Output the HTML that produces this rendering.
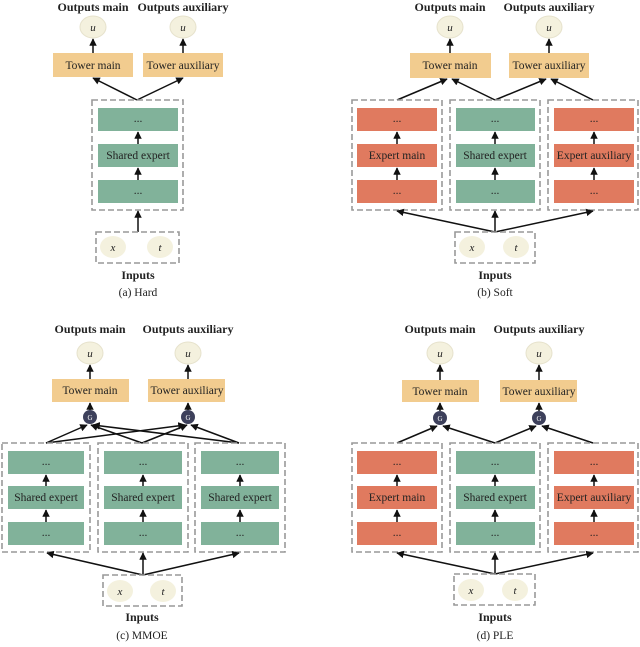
<!DOCTYPE html>
<html><head><meta charset="utf-8"><style>
body{margin:0;background:#fff}
svg text{font-family:"Liberation Serif",serif;fill:#222}
.t{font-size:11.5px}
.b{font-size:12px;font-weight:bold}
.i{font-size:11px;font-style:italic}
.d{fill:none;stroke:#999;stroke-width:1.6;stroke-dasharray:6,3}
.a{stroke:#111;stroke-width:1.5;fill:none;marker-end:url(#ar)}
</style></head><body>
<svg width="640" height="642" viewBox="0 0 640 642" xmlns="http://www.w3.org/2000/svg">
<defs><marker id="ar" viewBox="0 0 10 10" refX="9" refY="5" markerWidth="5" markerHeight="5" orient="auto"><path d="M0,0L10,5L0,10z" fill="#111"/></marker>
<g id="u"><ellipse cx="0" cy="0" rx="13" ry="11" fill="#f4f1de" stroke="#e6e2cc"/><text class="i" x="0" y="4" text-anchor="middle">u</text></g>
<g id="g"><circle cx="0" cy="0" r="7" fill="#3d405b"/><text x="0" y="3" text-anchor="middle" style="font-size:7px;fill:#fff">G</text></g>
</defs>

<!-- (a) -->
<text class="b" x="93" y="11" text-anchor="middle">Outputs main</text>
<text class="b" x="183" y="11" text-anchor="middle">Outputs auxiliary</text>
<use href="#u" x="93" y="27"/><use href="#u" x="183" y="27"/>
<rect x="53" y="53" width="80" height="24" fill="#f2cc8f"/><text class="t" x="93" y="69" text-anchor="middle">Tower main</text>
<rect x="143" y="53" width="80" height="24" fill="#f2cc8f"/><text class="t" x="183" y="69" text-anchor="middle">Tower auxiliary</text>
<line class="a" x1="93" y1="53" x2="93" y2="39"/><line class="a" x1="183" y1="53" x2="183" y2="39"/>
<line class="a" x1="137" y1="100" x2="93" y2="78"/><line class="a" x1="137" y1="100" x2="183" y2="78"/>
<rect class="d" x="92" y="100" width="91" height="110"/>
<rect x="98" y="108" width="80" height="23" fill="#81b29a"/><text class="t" x="138" y="122" text-anchor="middle">...</text>
<rect x="98" y="144" width="80" height="23" fill="#81b29a"/><text class="t" x="138" y="159" text-anchor="middle">Shared expert</text>
<rect x="98" y="180" width="80" height="23" fill="#81b29a"/><text class="t" x="138" y="194" text-anchor="middle">...</text>
<line class="a" x1="138" y1="144" x2="138" y2="132"/><line class="a" x1="138" y1="180" x2="138" y2="168"/>
<line class="a" x1="138" y1="232" x2="138" y2="211"/>
<rect class="d" x="96" y="232" width="83" height="31"/>
<ellipse cx="113" cy="247" rx="13" ry="11" fill="#f4f1de"/><text class="i" x="113" y="251" text-anchor="middle">x</text>
<ellipse cx="160" cy="247" rx="13" ry="11" fill="#f4f1de"/><text class="i" x="160" y="251" text-anchor="middle">t</text>
<text class="b" x="138" y="279" text-anchor="middle">Inputs</text>
<text class="t" x="138" y="296" text-anchor="middle">(a) Hard</text>

<!-- (b) -->
<text class="b" x="450" y="11" text-anchor="middle">Outputs main</text>
<text class="b" x="549" y="11" text-anchor="middle">Outputs auxiliary</text>
<use href="#u" x="450" y="27"/><use href="#u" x="549" y="27"/>
<rect x="410" y="53" width="81" height="25" fill="#f2cc8f"/><text class="t" x="450" y="69" text-anchor="middle">Tower main</text>
<rect x="509" y="53" width="80" height="25" fill="#f2cc8f"/><text class="t" x="549" y="69" text-anchor="middle">Tower auxiliary</text>
<line class="a" x1="450" y1="53" x2="450" y2="39"/><line class="a" x1="549" y1="53" x2="549" y2="39"/>
<line class="a" x1="397" y1="100" x2="447" y2="79"/><line class="a" x1="495" y1="100" x2="452" y2="79"/>
<line class="a" x1="495" y1="100" x2="546" y2="79"/><line class="a" x1="593" y1="100" x2="551" y2="79"/>
<rect class="d" x="352" y="100" width="90" height="110"/>
<rect class="d" x="450" y="100" width="90" height="110"/>
<rect class="d" x="548" y="100" width="90" height="110"/>
<rect x="357" y="108" width="80" height="23" fill="#e07a5f"/><text class="t" x="397" y="122" text-anchor="middle">...</text>
<rect x="357" y="144" width="80" height="23" fill="#e07a5f"/><text class="t" x="397" y="159" text-anchor="middle">Expert main</text>
<rect x="357" y="180" width="80" height="23" fill="#e07a5f"/><text class="t" x="397" y="194" text-anchor="middle">...</text>
<rect x="456" y="108" width="79" height="23" fill="#81b29a"/><text class="t" x="495" y="122" text-anchor="middle">...</text>
<rect x="456" y="144" width="79" height="23" fill="#81b29a"/><text class="t" x="495" y="159" text-anchor="middle">Shared expert</text>
<rect x="456" y="180" width="79" height="23" fill="#81b29a"/><text class="t" x="495" y="194" text-anchor="middle">...</text>
<rect x="554" y="108" width="80" height="23" fill="#e07a5f"/><text class="t" x="594" y="122" text-anchor="middle">...</text>
<rect x="554" y="144" width="80" height="23" fill="#e07a5f"/><text class="t" x="594" y="159" text-anchor="middle">Expert auxiliary</text>
<rect x="554" y="180" width="80" height="23" fill="#e07a5f"/><text class="t" x="594" y="194" text-anchor="middle">...</text>
<line class="a" x1="397" y1="144" x2="397" y2="132"/><line class="a" x1="397" y1="180" x2="397" y2="168"/>
<line class="a" x1="495" y1="144" x2="495" y2="132"/><line class="a" x1="495" y1="180" x2="495" y2="168"/>
<line class="a" x1="594" y1="144" x2="594" y2="132"/><line class="a" x1="594" y1="180" x2="594" y2="168"/>
<line class="a" x1="495" y1="232" x2="397" y2="211"/><line class="a" x1="495" y1="232" x2="495" y2="211"/><line class="a" x1="495" y1="232" x2="593" y2="211"/>
<rect class="d" x="455" y="232" width="80" height="31"/>
<ellipse cx="472" cy="247" rx="13" ry="11" fill="#f4f1de"/><text class="i" x="472" y="251" text-anchor="middle">x</text>
<ellipse cx="516" cy="247" rx="13" ry="11" fill="#f4f1de"/><text class="i" x="516" y="251" text-anchor="middle">t</text>
<text class="b" x="495" y="279" text-anchor="middle">Inputs</text>
<text class="t" x="495" y="296" text-anchor="middle">(b) Soft</text>

<!-- (c) -->
<text class="b" x="90" y="333" text-anchor="middle">Outputs main</text>
<text class="b" x="188" y="333" text-anchor="middle">Outputs auxiliary</text>
<use href="#u" x="90" y="353"/><use href="#u" x="188" y="353"/>
<rect x="52" y="379" width="77" height="23" fill="#f2cc8f"/><text class="t" x="90" y="394" text-anchor="middle">Tower main</text>
<rect x="148" y="379" width="77" height="23" fill="#f2cc8f"/><text class="t" x="187" y="394" text-anchor="middle">Tower auxiliary</text>
<line class="a" x1="90" y1="379" x2="90" y2="365"/><line class="a" x1="188" y1="379" x2="188" y2="365"/>
<line class="a" x1="90" y1="410" x2="90" y2="403"/><line class="a" x1="188" y1="410" x2="188" y2="403"/>
<use href="#g" x="90" y="417"/><use href="#g" x="188" y="417"/>
<line class="a" x1="46" y1="443" x2="87" y2="425"/><line class="a" x1="46" y1="443" x2="185" y2="425"/>
<line class="a" x1="142" y1="443" x2="91" y2="425"/><line class="a" x1="142" y1="443" x2="187" y2="425"/>
<line class="a" x1="239" y1="443" x2="93" y2="425"/><line class="a" x1="239" y1="443" x2="191" y2="425"/>
<rect class="d" x="2" y="443" width="88" height="109"/>
<rect class="d" x="98" y="443" width="90" height="109"/>
<rect class="d" x="195" y="443" width="90" height="109"/>
<rect x="8" y="451" width="76" height="23" fill="#81b29a"/><text class="t" x="46" y="465" text-anchor="middle">...</text>
<rect x="8" y="486" width="76" height="23" fill="#81b29a"/><text class="t" x="46" y="501" text-anchor="middle">Shared expert</text>
<rect x="8" y="522" width="76" height="23" fill="#81b29a"/><text class="t" x="46" y="536" text-anchor="middle">...</text>
<rect x="104" y="451" width="78" height="23" fill="#81b29a"/><text class="t" x="143" y="465" text-anchor="middle">...</text>
<rect x="104" y="486" width="78" height="23" fill="#81b29a"/><text class="t" x="143" y="501" text-anchor="middle">Shared expert</text>
<rect x="104" y="522" width="78" height="23" fill="#81b29a"/><text class="t" x="143" y="536" text-anchor="middle">...</text>
<rect x="201" y="451" width="78" height="23" fill="#81b29a"/><text class="t" x="240" y="465" text-anchor="middle">...</text>
<rect x="201" y="486" width="78" height="23" fill="#81b29a"/><text class="t" x="240" y="501" text-anchor="middle">Shared expert</text>
<rect x="201" y="522" width="78" height="23" fill="#81b29a"/><text class="t" x="240" y="536" text-anchor="middle">...</text>
<line class="a" x1="46" y1="486" x2="46" y2="475"/><line class="a" x1="46" y1="522" x2="46" y2="510"/>
<line class="a" x1="143" y1="486" x2="143" y2="475"/><line class="a" x1="143" y1="522" x2="143" y2="510"/>
<line class="a" x1="240" y1="486" x2="240" y2="475"/><line class="a" x1="240" y1="522" x2="240" y2="510"/>
<line class="a" x1="143" y1="575" x2="47" y2="553"/><line class="a" x1="143" y1="575" x2="143" y2="553"/><line class="a" x1="143" y1="575" x2="239" y2="553"/>
<rect class="d" x="103" y="575" width="79" height="31"/>
<ellipse cx="120" cy="591" rx="13" ry="11" fill="#f4f1de"/><text class="i" x="120" y="595" text-anchor="middle">x</text>
<ellipse cx="163" cy="591" rx="13" ry="11" fill="#f4f1de"/><text class="i" x="163" y="595" text-anchor="middle">t</text>
<text class="b" x="142" y="621" text-anchor="middle">Inputs</text>
<text class="t" x="142" y="639" text-anchor="middle">(c) MMOE</text>

<!-- (d) -->
<text class="b" x="440" y="333" text-anchor="middle">Outputs main</text>
<text class="b" x="539" y="333" text-anchor="middle">Outputs auxiliary</text>
<use href="#u" x="440" y="353"/><use href="#u" x="539" y="353"/>
<rect x="402" y="380" width="77" height="22" fill="#f2cc8f"/><text class="t" x="440" y="395" text-anchor="middle">Tower main</text>
<rect x="500" y="380" width="77" height="22" fill="#f2cc8f"/><text class="t" x="539" y="395" text-anchor="middle">Tower auxiliary</text>
<line class="a" x1="440" y1="380" x2="440" y2="365"/><line class="a" x1="539" y1="380" x2="539" y2="365"/>
<line class="a" x1="440" y1="411" x2="440" y2="403"/><line class="a" x1="539" y1="411" x2="539" y2="403"/>
<use href="#g" x="440" y="418"/><use href="#g" x="539" y="418"/>
<line class="a" x1="397" y1="443" x2="437" y2="426"/><line class="a" x1="495" y1="443" x2="443" y2="426"/>
<line class="a" x1="495" y1="443" x2="536" y2="426"/><line class="a" x1="593" y1="443" x2="542" y2="426"/>
<rect class="d" x="352" y="443" width="90" height="109"/>
<rect class="d" x="450" y="443" width="90" height="109"/>
<rect class="d" x="548" y="443" width="90" height="109"/>
<rect x="357" y="451" width="80" height="23" fill="#e07a5f"/><text class="t" x="397" y="465" text-anchor="middle">...</text>
<rect x="357" y="486" width="80" height="23" fill="#e07a5f"/><text class="t" x="397" y="501" text-anchor="middle">Expert main</text>
<rect x="357" y="522" width="80" height="23" fill="#e07a5f"/><text class="t" x="397" y="536" text-anchor="middle">...</text>
<rect x="456" y="451" width="79" height="23" fill="#81b29a"/><text class="t" x="495" y="465" text-anchor="middle">...</text>
<rect x="456" y="486" width="79" height="23" fill="#81b29a"/><text class="t" x="495" y="501" text-anchor="middle">Shared expert</text>
<rect x="456" y="522" width="79" height="23" fill="#81b29a"/><text class="t" x="495" y="536" text-anchor="middle">...</text>
<rect x="554" y="451" width="80" height="23" fill="#e07a5f"/><text class="t" x="594" y="465" text-anchor="middle">...</text>
<rect x="554" y="486" width="80" height="23" fill="#e07a5f"/><text class="t" x="594" y="501" text-anchor="middle">Expert auxiliary</text>
<rect x="554" y="522" width="80" height="23" fill="#e07a5f"/><text class="t" x="594" y="536" text-anchor="middle">...</text>
<line class="a" x1="397" y1="486" x2="397" y2="475"/><line class="a" x1="397" y1="522" x2="397" y2="510"/>
<line class="a" x1="495" y1="486" x2="495" y2="475"/><line class="a" x1="495" y1="522" x2="495" y2="510"/>
<line class="a" x1="594" y1="486" x2="594" y2="475"/><line class="a" x1="594" y1="522" x2="594" y2="510"/>
<line class="a" x1="495" y1="574" x2="397" y2="553"/><line class="a" x1="495" y1="574" x2="495" y2="553"/><line class="a" x1="495" y1="574" x2="593" y2="553"/>
<rect class="d" x="454" y="574" width="81" height="31"/>
<ellipse cx="471" cy="590" rx="13" ry="11" fill="#f4f1de"/><text class="i" x="471" y="594" text-anchor="middle">x</text>
<ellipse cx="515" cy="590" rx="13" ry="11" fill="#f4f1de"/><text class="i" x="515" y="594" text-anchor="middle">t</text>
<text class="b" x="495" y="621" text-anchor="middle">Inputs</text>
<text class="t" x="495" y="639" text-anchor="middle">(d) PLE</text>
</svg>
</body></html>
